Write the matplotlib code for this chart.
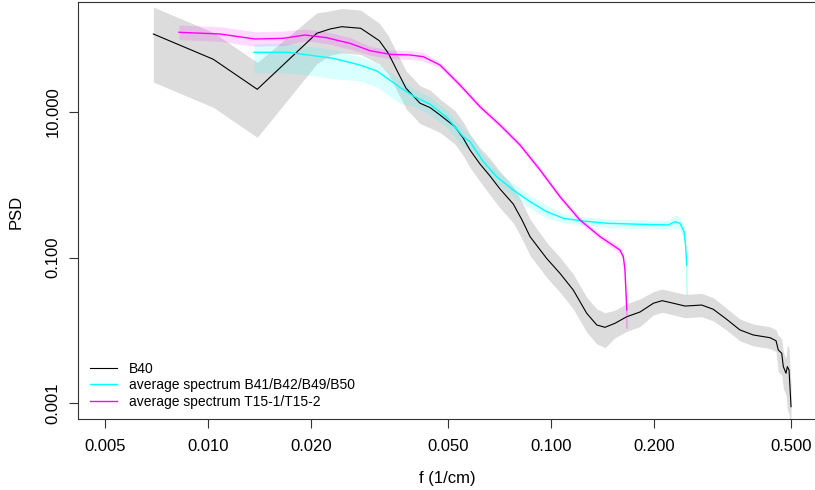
import numpy as np
import matplotlib
matplotlib.use('Agg')
import matplotlib.pyplot as plt

plt.rcParams['font.family'] = ['Liberation Sans', 'DejaVu Sans']

# B40 spectrum (f in 1/cm)
b40_f = [0.00693, 0.01036, 0.01392, 0.02075, 0.02268, 0.02454, 0.02788, 0.03158,
         0.03356, 0.03549, 0.03778, 0.04151, 0.04439, 0.04747, 0.05248, 0.05551,
         0.05804, 0.06209, 0.06641, 0.07101, 0.07762, 0.08234, 0.08688, 0.09716,
         0.1062, 0.1161, 0.1271, 0.1360, 0.1437, 0.1537, 0.1663, 0.1818,
         0.1988, 0.2108, 0.2274, 0.2459, 0.2751, 0.2973, 0.3252, 0.3556,
         0.3889, 0.4350, 0.4529, 0.4599, 0.4706, 0.4757, 0.4843, 0.4887,
         0.4943, 0.5010]
b40_psd = [117.9, 53.0, 20.5, 120.5, 138.0, 148.5, 141.2, 95.4,
           64.0, 37.8, 21.2, 13.2, 11.5, 9.10, 6.28, 4.35,
           3.01, 1.93, 1.32, 0.876, 0.545, 0.328, 0.194, 0.0972,
           0.0608, 0.0359, 0.01718, 0.01186, 0.01103, 0.01253, 0.01542, 0.0179,
           0.0236, 0.0256, 0.0236, 0.0216, 0.0223, 0.0195, 0.0142, 0.01014,
           0.00865, 0.00794, 0.00722, 0.00538, 0.00485, 0.00318, 0.00258, 0.00318,
           0.00286, 0.000895]
# band half widths (log10 units) above / below the curve
b40_up = [0.37, 0.37, 0.37, 0.28, 0.25, 0.25, 0.25, 0.24,
          0.24, 0.24, 0.24, 0.24, 0.24, 0.22, 0.22, 0.22,
          0.22, 0.22, 0.24, 0.24, 0.24, 0.24, 0.24, 0.22,
          0.22, 0.22, 0.22, 0.22, 0.20, 0.18, 0.18, 0.18,
          0.16, 0.16, 0.16, 0.16, 0.16, 0.16, 0.15, 0.15,
          0.15, 0.15, 0.15, 0.20, 0.20, 0.20, 0.20, 0.30,
          0.30, 0.30]
b40_dn = [0.66, 0.66, 0.66, 0.42, 0.36, 0.36, 0.36, 0.32,
          0.28, 0.28, 0.28, 0.28, 0.28, 0.24, 0.24, 0.24,
          0.24, 0.24, 0.26, 0.26, 0.26, 0.26, 0.26, 0.26,
          0.26, 0.26, 0.26, 0.26, 0.28, 0.20, 0.20, 0.20,
          0.16, 0.16, 0.16, 0.16, 0.16, 0.16, 0.15, 0.15,
          0.15, 0.15, 0.15, 0.30, 0.30, 0.30, 0.30, 0.60,
          0.60, 0.60]

# average spectrum B41/B42/B49/B50
avg_b_f = [0.01362, 0.01711, 0.02314, 0.02774, 0.03109, 0.03628, 0.03967, 0.04439,
           0.04966, 0.0555, 0.05804, 0.06347, 0.06946, 0.07762, 0.08688, 0.09716,
           0.1086, 0.1242, 0.1454, 0.1818, 0.2198, 0.2299, 0.2377, 0.2442,
           0.2470, 0.2486, 0.2493]
avg_b_psd = [66.1, 66.1, 54.7, 44.2, 36.6, 21.8, 16.6, 12.8,
             8.46, 4.58, 3.91, 2.08, 1.29, 0.848, 0.586, 0.427,
             0.347, 0.318, 0.296, 0.287, 0.281, 0.311, 0.296, 0.227,
             0.141, 0.0791, 0.0306]
avg_b_up = [0.12, 0.12, 0.12, 0.11, 0.11, 0.11, 0.10, 0.10,
            0.10, 0.10, 0.09, 0.09, 0.09, 0.09, 0.09, 0.09,
            0.06, 0.06, 0.06, 0.06, 0.06, 0.09, 0.09, 0.09,
            0.07, 0.07, 0.07]
avg_b_dn = [0.28, 0.28, 0.28, 0.22, 0.22, 0.22, 0.14, 0.14,
            0.14, 0.14, 0.09, 0.09, 0.09, 0.09, 0.09, 0.09,
            0.06, 0.06, 0.06, 0.06, 0.06, 0.09, 0.09, 0.09,
            0.07, 0.07, 0.07]

# average spectrum T15-1/T15-2
avg_t_f = [0.00823, 0.01084, 0.01371, 0.01658, 0.01918, 0.02219, 0.02426, 0.02594,
           0.02967, 0.03394, 0.03881, 0.04244, 0.04747, 0.05428, 0.06209, 0.07101,
           0.08124, 0.0929, 0.1062, 0.1215, 0.1390, 0.1589, 0.1625, 0.1643,
           0.1663, 0.1665]
avg_t_psd = [124.4, 117.9, 100.6, 102.9, 114.2, 104.9, 94.5, 87.8,
             69.5, 62.0, 60.7, 57.5, 44.2, 23.5, 11.8, 6.63,
             3.52, 1.60, 0.687, 0.328, 0.194, 0.127, 0.1029, 0.0676,
             0.0191, 0.0108]
avg_t_err = [0.10, 0.10, 0.10, 0.10, 0.08, 0.08, 0.08, 0.08,
             0.06, 0.06, 0.06, 0.06, 0.04, 0.04, 0.04, 0.04,
             0.04, 0.04, 0.04, 0.04, 0.04, 0.05, 0.06, 0.06,
             0.06, 0.06]

x_ticks = [0.005, 0.010, 0.020, 0.050, 0.100, 0.200, 0.500]
y_ticks = [0.001, 0.100, 10.000]


def band(ax, f, psd, up, dn, color, alpha):
    psd = np.asarray(psd)
    lo = psd * 10 ** (-np.asarray(dn))
    hi = psd * 10 ** np.asarray(up)
    ax.fill_between(f, lo, hi, color=color, alpha=alpha, linewidth=0)


fig = plt.figure(figsize=(8.15, 4.9), dpi=100)
# the right side of the plot region runs past the picture edge, as in the reference
ax = fig.add_axes([77.7 / 815, 1 - 419 / 490, (830 - 77.7) / 815, (419 - 1.7) / 490])

band(ax, b40_f, b40_psd, b40_up, b40_dn, (0.5, 0.5, 0.5), 0.27)
band(ax, avg_b_f, avg_b_psd, avg_b_up, avg_b_dn, 'cyan', 0.15)
band(ax, avg_t_f, avg_t_psd, avg_t_err, avg_t_err, 'magenta', 0.15)

ax.plot(b40_f, b40_psd, color='black', lw=0.8, label='B40')
ax.plot(avg_b_f[:-1], avg_b_psd[:-1], color='cyan', lw=1.0,
        label='average spectrum B41/B42/B49/B50')
ax.plot(avg_b_f[-2:], avg_b_psd[-2:], color='cyan', lw=1.0, alpha=0.3)
ax.plot(avg_t_f[:-1], avg_t_psd[:-1], color='magenta', lw=1.0,
        label='average spectrum T15-1/T15-2')
ax.plot(avg_t_f[-2:], avg_t_psd[-2:], color='magenta', lw=1.0, alpha=0.3)

ax.set_xscale('log')
ax.set_yscale('log')
ax.set_xlim(10 ** (-2 - (208 - 77.7) / 343), 10 ** (-2 + (830 - 208) / 343))
ax.set_ylim(10 ** (1 - 307 / 72.8), 10 ** (1 + 110.3 / 72.8))

ax.set_xticks(x_ticks)
ax.set_xticklabels(['%.3f' % v for v in x_ticks])
ax.set_yticks(y_ticks)
ax.set_yticklabels(['%.3f' % v for v in y_ticks], rotation=90, va='center')
ax.minorticks_off()
ax.tick_params(axis='both', direction='out', length=6.5, width=0.8, color='#333333',
               labelsize=12)
ax.tick_params(axis='x', pad=8)
ax.tick_params(axis='y', pad=6)
for s in ax.spines.values():
    s.set_linewidth(0.8)
    s.set_color('#333333')

ax.set_xlabel('f (1/cm)', fontsize=12)
ax.xaxis.set_label_coords((447 - 77.7) / 752.3, -0.125)
ax.set_ylabel('PSD', fontsize=12)
ax.yaxis.set_label_coords((24 - 77.7) / 752.3, 0.496)

ax.legend(loc='lower left', bbox_to_anchor=(83 / 815, 1 - 415.5 / 490),
          bbox_transform=fig.transFigure, frameon=False, fontsize=10,
          borderpad=0, handlelength=1.95, handletextpad=0.85, labelspacing=0.16)

fig.savefig('out.png', dpi=100)
